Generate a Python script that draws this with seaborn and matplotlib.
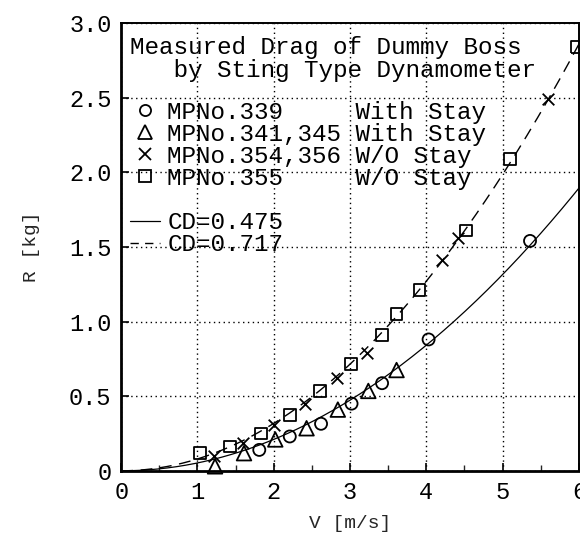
import numpy as np
import pandas as pd
import matplotlib
matplotlib.use("Agg")
import matplotlib.pyplot as plt
from matplotlib.lines import Line2D
import seaborn as sns

# Measured drag R [kg] against speed V [m/s]
v_339 = [1.81, 2.21, 2.62, 3.02, 3.42, 4.03, 5.36]
r_339 = [0.14, 0.23, 0.315, 0.45, 0.587, 0.88, 1.54]

v_341_345 = [1.23, 1.61, 2.02, 2.43, 2.84, 3.24, 3.61]
r_341_345 = [0.03, 0.118, 0.21, 0.285, 0.41, 0.535, 0.675]

v_354_356 = [1.21, 1.60, 2.00, 2.41, 2.83, 3.22, 4.20, 4.41, 5.60]
r_354_356 = [0.096, 0.185, 0.31, 0.45, 0.62, 0.79, 1.41, 1.56, 2.49]

v_355 = [1.03, 1.43, 1.83, 2.21, 2.61, 3.01, 3.42, 3.61, 3.91, 4.52, 5.10, 5.97]
r_355 = [0.12, 0.163, 0.25, 0.375, 0.535, 0.714, 0.91, 1.05, 1.21, 1.61, 2.09, 2.84]

# Drag coefficient curves: R = 1/2 rho A CD V^2
cd_values = [0.475, 0.717]
RHO = 101.9             # water density [kgf s^2 / m^4]
BOSS_DIAMETER = 0.0526  # [m]
AREA = np.pi * BOSS_DIAMETER ** 2 / 4

x_ticks = [0, 1, 2, 3, 4, 5, 6]
y_ticks = [0, 0.5, 1.0, 1.5, 2.0, 2.5, 3.0]
y_tick_labels = ["0", "0.5", "1.0", "1.5", "2.0", "2.5", "3.0"]

series_labels = [
    "MPNo.339     With Stay",
    "MPNo.341,345 With Stay",
    "MPNo.354,356 W/O Stay",
    "MPNo.355     W/O Stay",
]
title_text = "Measured Drag of Dummy Boss\n   by Sting Type Dynamometer"

sns.set_theme(style="ticks")
plt.rcParams["font.family"] = ["Liberation Mono", "DejaVu Sans Mono"]
plt.rcParams["text.color"] = "black"

fig = plt.figure(figsize=(5.8, 5.35), dpi=100)
ax = fig.add_axes([0.209, 0.12, 0.789, 0.837])

measured = pd.concat([
    pd.DataFrame({"V": v_339, "R": r_339, "set": "339"}),
    pd.DataFrame({"V": v_341_345, "R": r_341_345, "set": "341"}),
    pd.DataFrame({"V": v_354_356, "R": r_354_356, "set": "354"}),
    pd.DataFrame({"V": v_355, "R": r_355, "set": "355"}),
])

speed = np.linspace(0, 6, 300)
curves = pd.concat([
    pd.DataFrame({"V": speed, "R": 0.5 * RHO * AREA * cd * speed ** 2, "CD": f"{cd}"})
    for cd in cd_values
])

sns.lineplot(data=curves[curves["CD"] == str(cd_values[0])], x="V", y="R",
             color="black", lw=0.9, ax=ax, legend=False)
sns.lineplot(data=curves[curves["CD"] == str(cd_values[1])], x="V", y="R",
             color="black", lw=1.0, ax=ax, legend=False, dashes=False)
ax.lines[-1].set_dashes((8.5, 5.5))

marker_style = {
    "339": dict(marker="o", s=75),
    "341": dict(marker="^", s=110),
    "354": dict(marker="x", s=70),
    "355": dict(marker="s", s=70),
}
for key, style in marker_style.items():
    sub = measured[measured["set"] == key]
    if style["marker"] == "x":
        sns.scatterplot(data=sub, x="V", y="R", marker="x", s=style["s"],
                        color="black", linewidth=1.3, ax=ax, zorder=4, clip_on=False)
    else:
        sns.scatterplot(data=sub, x="V", y="R", marker=style["marker"], s=style["s"],
                        facecolor="none", edgecolor="black", linewidth=1.3,
                        ax=ax, zorder=4, clip_on=False)

ax.set_xlim(0, 6)
ax.set_ylim(0, 3)
ax.set_xticks(x_ticks)
ax.set_xticks(np.arange(0.5, 6, 1.0), minor=True)
ax.set_yticks(y_ticks)
ax.set_yticklabels(y_tick_labels)
ax.tick_params(axis="both", which="major", direction="in", length=6, width=1.2,
               labelsize=17, colors="black", pad=7)
ax.tick_params(axis="x", which="minor", direction="in", length=4, width=1.0)
ax.grid(True, which="major", color="black", linestyle=(0, (1, 2.5)), linewidth=1.0)

for side in ["left", "bottom"]:
    ax.spines[side].set_linewidth(2.0)
for side in ["top", "right"]:
    ax.spines[side].set_linewidth(1.4)
for sp in ax.spines.values():
    sp.set_color("black")

ax.set_xlabel("V [m/s]", fontsize=14, labelpad=8)
ax.set_ylabel("R [kg]", fontsize=14, labelpad=21)

ax.text(0.02, 0.972, title_text, transform=ax.transAxes, fontsize=17.5,
        va="top", ha="left", linespacing=1.0)

handles = [
    Line2D([], [], ls="none", marker="o", ms=8, mfc="none", mec="black", mew=1.3),
    Line2D([], [], ls="none", marker="^", ms=10, mfc="none", mec="black", mew=1.3),
    Line2D([], [], ls="none", marker="x", ms=8, mec="black", mew=1.3),
    Line2D([], [], ls="none", marker="s", ms=8, mfc="none", mec="black", mew=1.3),
    Line2D([], [], ls="none"),
    Line2D([], [], color="black", lw=0.9),
    Line2D([], [], color="black", lw=1.0, dashes=(6, 4.5)),
]
labels = series_labels + [" "] + [f"CD={cd}" for cd in cd_values]
ax.legend(handles, labels, loc="upper left", bbox_to_anchor=(0.02, 0.826),
          frameon=False, fontsize=17.5, handlelength=1.2, handletextpad=0.32,
          labelspacing=-0.04, borderpad=0, borderaxespad=0)

fig.savefig("out.png", dpi=100, facecolor="white")
